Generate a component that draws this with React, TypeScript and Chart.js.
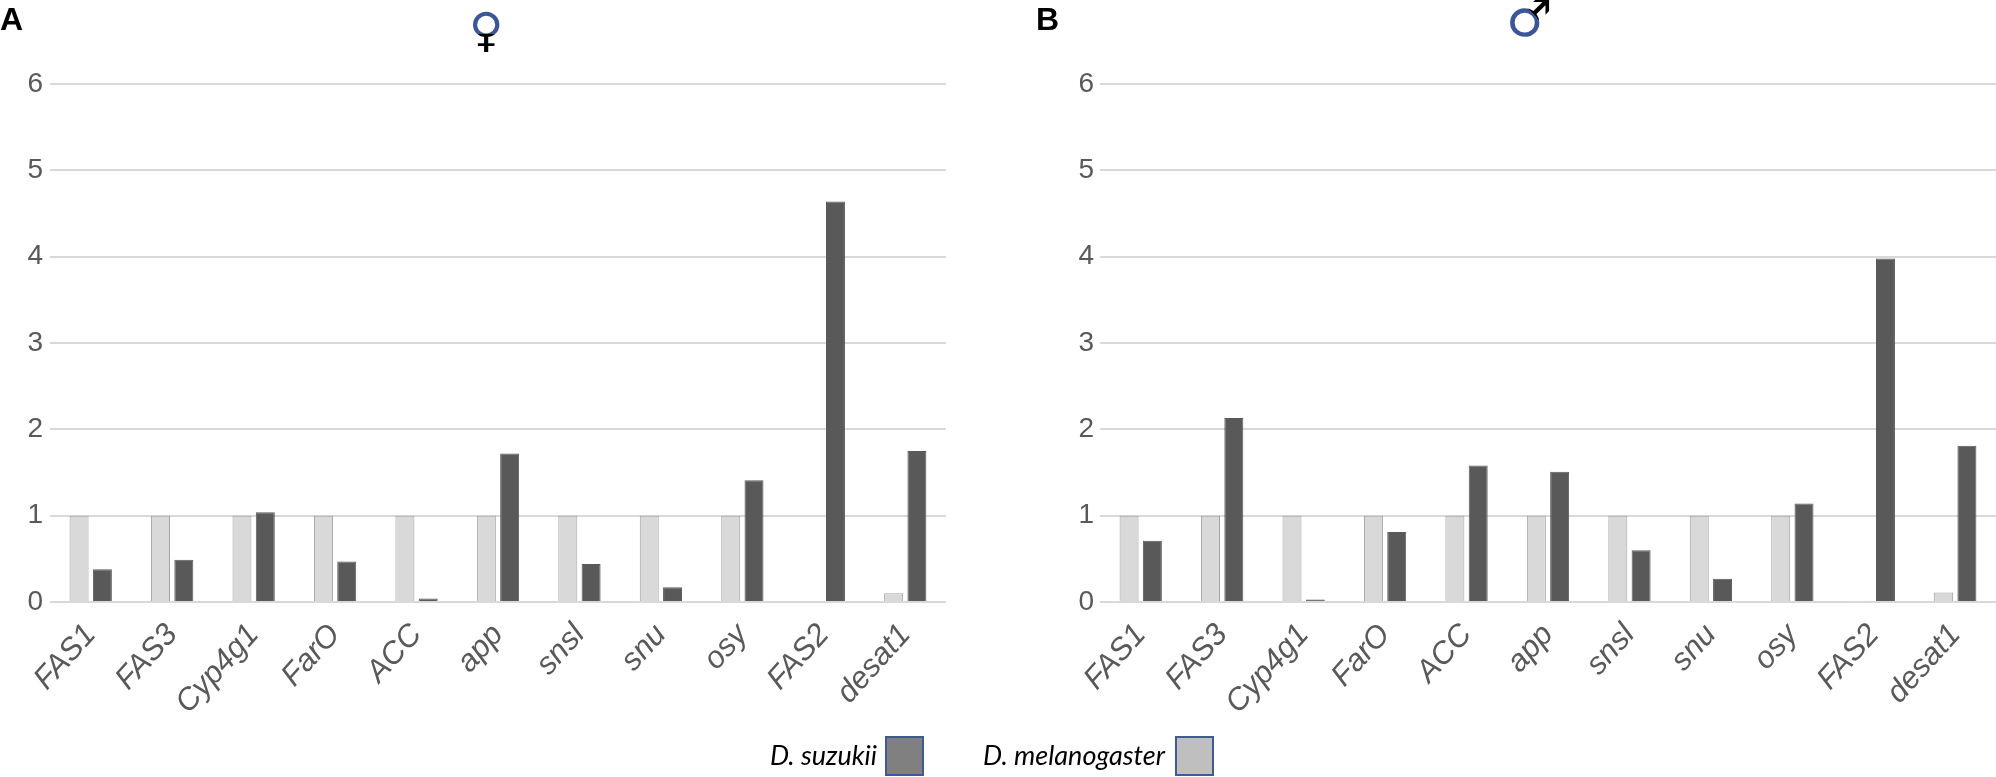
import React, { useEffect, useRef } from "react";
import { Chart, registerables } from "chart.js";

Chart.register(...registerables);

const genes = ["FAS1", "FAS3", "Cyp4g1", "FarO", "ACC", "app", "snsl", "snu", "osy", "FAS2", "desat1"];
const yTickValues = [0, 1, 2, 3, 4, 5, 6];
const femaleMelanogaster = [1, 1, 1, 1, 1, 1, 1, 1, 1, 0.012, 0.1];
const femaleSuzukii = [0.38, 0.49, 1.04, 0.47, 0.04, 1.72, 0.44, 0.17, 1.41, 4.64, 1.75];
const maleMelanogaster = [1, 1, 1, 1, 1, 1, 1, 1, 1, 0.015, 0.11];
const maleSuzukii = [0.71, 2.13, 0.03, 0.81, 1.58, 1.51, 0.6, 0.27, 1.14, 3.98, 1.81];
const seriesNames = ["D. melanogaster", "D. suzukii"];

const LIGHT = "#d9d9d9";
const LIGHT_BORDER = "#a3a3a3";
const DARK = "#595959";
const GRID = "#d9d9d9";
const TEXT = "#595959";

type PanelProps = {
  mel: number[];
  suz: number[];
  left: number;
  width: number;
  yWidth: number;
  padRight: number;
  labelPad: number;
};

function Panel({ mel, suz, left, width, yWidth, padRight, labelPad }: PanelProps) {
  const ref = useRef<HTMLCanvasElement | null>(null);
  useEffect(() => {
    if (!ref.current) return;
    const chart = new Chart(ref.current, {
      type: "bar",
      data: {
        labels: genes,
        datasets: [
          {
            label: seriesNames[0],
            data: mel,
            backgroundColor: LIGHT,
            borderColor: LIGHT_BORDER,
            borderWidth: 1,
            categoryPercentage: 0.572,
            barPercentage: 0.815,
          },
          {
            label: seriesNames[1],
            data: suz,
            backgroundColor: DARK,
            borderColor: DARK,
            borderWidth: 1,
            categoryPercentage: 0.572,
            barPercentage: 0.815,
          },
        ],
      },
      options: {
        responsive: false,
        animation: false,
        devicePixelRatio: 1,
        layout: { padding: { top: 84, right: padRight, left: 0, bottom: 0 } },
        plugins: { legend: { display: false }, tooltip: { enabled: false }, title: { display: false } },
        scales: {
          x: {
            grid: { display: false },
            border: { display: false },
            ticks: {
              color: TEXT,
              font: { family: "'Liberation Sans', Arial, sans-serif", size: 31, style: "italic" },
              minRotation: 48,
              maxRotation: 48,
              padding: 7,
              autoSkip: false,
            },
            afterFit: (scale: any) => {
              scale.height = 138;
            },
          },
          y: {
            min: 0,
            max: 6,
            afterBuildTicks: (scale: any) => {
              scale.ticks = yTickValues.map((v) => ({ value: v }));
            },
            grid: { color: GRID, lineWidth: 2, drawTicks: false },
            border: { display: false },
            ticks: {
              color: TEXT,
              font: { family: "'Liberation Sans', Arial, sans-serif", size: 28 },
              padding: labelPad,
            },
            afterFit: (scale: any) => {
              scale.width = yWidth;
            },
          },
        },
      },
    });
    return () => chart.destroy();
  }, []);
  return (
    <canvas
      ref={ref}
      width={width}
      height={740}
      style={{ position: "absolute", left, top: 0, width, height: 740 }}
    />
  );
}

export default function App() {
  const legendFont = "Lato, 'Open Sans', sans-serif";
  return (
    <div
      style={{
        position: "fixed",
        left: 0,
        top: 0,
        width: 1996,
        height: 777,
        background: "#ffffff",
        overflow: "hidden",
      }}
    >
      <Panel mel={femaleMelanogaster} suz={femaleSuzukii} left={0} width={960} yWidth={50} padRight={14} labelPad={7} />
      <Panel mel={maleMelanogaster} suz={maleSuzukii} left={1000} width={996} yWidth={100} padRight={0} labelPad={6} />

      <div style={{ position: "absolute", left: 0, top: 3, fontFamily: "'Liberation Sans', Arial, sans-serif", fontWeight: "bold", fontSize: 32, lineHeight: 1, color: "#000" }}>A</div>
      <div style={{ position: "absolute", left: 1036, top: 3, fontFamily: "'Liberation Sans', Arial, sans-serif", fontWeight: "bold", fontSize: 32, lineHeight: 1, color: "#000" }}>B</div>

      <div
        style={{
          position: "absolute",
          left: 469,
          top: 6,
          fontFamily: "'DejaVu Sans', sans-serif",
          fontSize: 47,
          lineHeight: 1,
          background: "linear-gradient(to bottom, #3b5598 0%, #3b5598 60%, #000 60%, #000 100%)",
          WebkitBackgroundClip: "text",
          backgroundClip: "text",
          color: "transparent",
        }}
      >
        ♀
      </div>
      <div
        style={{
          position: "absolute",
          left: 1506,
          top: -8,
          fontFamily: "'DejaVu Sans', sans-serif",
          fontSize: 52,
          lineHeight: 1,
          background: "linear-gradient(to top right, #3b5598 0%, #3b5598 58%, #000 58%, #000 100%)",
          WebkitBackgroundClip: "text",
          backgroundClip: "text",
          color: "transparent",
        }}
      >
        ♂
      </div>

      <div style={{ position: "absolute", right: 1996 - 877, top: 739, fontFamily: legendFont, fontStyle: "italic", fontSize: 27, lineHeight: "32px", color: "#000", whiteSpace: "nowrap" }}>
        {seriesNames[1]}
      </div>
      <div style={{ position: "absolute", left: 885, top: 736, width: 35, height: 36, background: "#808080", border: "2px solid #3f5a96" }} />
      <div style={{ position: "absolute", right: 1996 - 1165, top: 739, fontFamily: legendFont, fontStyle: "italic", fontSize: 27, lineHeight: "32px", color: "#000", whiteSpace: "nowrap" }}>
        {seriesNames[0]}
      </div>
      <div style={{ position: "absolute", left: 1175, top: 736, width: 35, height: 36, background: "#bfbfbf", border: "2px solid #3f5a96" }} />
    </div>
  );
}
